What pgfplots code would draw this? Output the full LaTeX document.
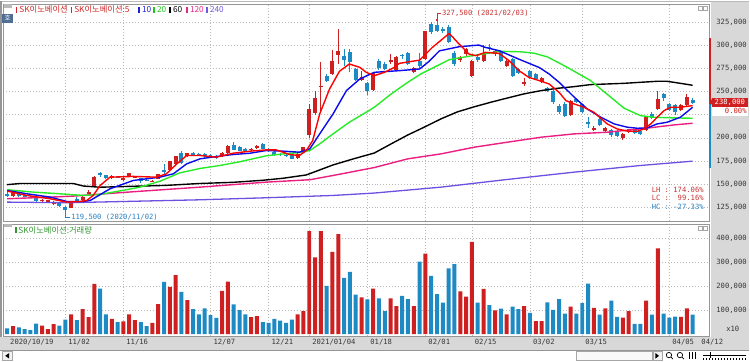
\documentclass[border=0pt]{standalone}
\usepackage{pgfplots}
\pgfplotsset{compat=1.18}
\usepackage{pgfplotstable}
\usepackage{fontspec}
\setmainfont{Liberation Sans}
\newfontfamily\kr{Noto Sans CJK KR}
\newfontfamily\nm{DejaVu Sans Mono}
\definecolor{cred}{RGB}{206,32,32}
\definecolor{cblue}{RGB}{30,138,196}
\definecolor{ma5}{RGB}{255,0,0}
\definecolor{ma10}{RGB}{10,10,235}
\definecolor{ma20}{RGB}{40,235,40}
\definecolor{ma60}{RGB}{0,0,0}
\definecolor{ma120}{RGB}{235,30,130}
\definecolor{ma240}{RGB}{110,80,225}
\definecolor{panelgray}{RGB}{216,216,216}
\definecolor{gridc}{RGB}{185,185,185}
\definecolor{framec}{RGB}{150,150,150}
\definecolor{txtgray}{RGB}{55,55,55}
\definecolor{legred}{RGB}{208,40,40}
\definecolor{legblue}{RGB}{30,30,220}
\definecolor{leggreen}{RGB}{30,200,30}
\definecolor{legpink}{RGB}{225,40,130}
\definecolor{legpurple}{RGB}{110,90,225}
\definecolor{volgreen}{RGB}{50,150,50}
\definecolor{annred}{RGB}{200,50,50}
\definecolor{annblue}{RGB}{40,130,195}
\definecolor{iconblue}{RGB}{80,110,150}

\pgfplotstableread{
x o h l c
1 136.5 141 135.5 140
6 132 134 131 133
7 131.5 133 130.5 132.5
8 129 131.5 127.5 130
11 124.5 130.5 123.5 130
13 133 136.5 132 135.5
14 139.5 143 138 141
15 148 159 147 158
18 156 159.5 155 159
20 155 158 153 156.5
21 158.5 162 157.5 161.5
22 157 158.5 156 158
25 153 154.5 152 153.5
26 155.5 161 155 160.5
28 165 175 164 174.5
29 172 180.5 171 180
31 180 184 179 183
37 180 185 179.5 184
38 183 192 182.5 191.5
42 187 189 186 188
43 189 192 188 191
50 178 183 177.5 182.5
51 183.5 190.5 183 190
52 202.5 236.5 200 231
53 227 251 225 243
54 255 282 228 256.5
56 269 295 268 283
57 290 317.5 280 293.5
61 263 272 261 266
63 252 271 251 270
66 282 291 280 284
67 273 288 272 287
70 271 277 270 275.5
72 285 316 284 315
78 284 289 282 287
79 290.5 297 289 296
80 267 284 266 283
82 283 300 282 292
84 290.5 295 289 294
86 278 285 277 283
89 259 265 256 260.5
92 260 266 259 265
97 225 241 224 240
101 209 212.5 207 211
103 207 211.5 206 210.5
106 199.5 205.5 197.5 204.5
107 206 209.5 205 209
110 208 223 207 222
112 231 251 230 242
116 230.5 236 229 235
117 235 247 234 244
}\redc

\pgfplotstableread{
x o h l c
0 139.5 141 136 136.5
2 139 140 136 137
3 138 139 135.5 136.5
4 136 137.5 134.5 135
5 135 136 131 131.5
9 129 129.5 125.5 126
10 125.5 126.5 119.5 122
12 134 135.5 131 132
16 161.5 163.5 157.5 160
17 159.5 160 155 156
19 158 159 156 157
23 156 157 151 153
24 154.5 156 153 154
27 165.5 172 161 163
30 184 185.5 172 172.5
32 183.5 185 180 182
33 182.5 183.5 180 181
34 182 183 178 180
35 181 182 178.5 179
36 180 181 177.5 178.5
39 192 195 186.5 187
40 190.5 191.5 185.5 186
41 187.5 188.5 185.5 186.5
44 193 194 187.5 188
45 188 189 185 186
46 185 186 180.5 181
47 182.5 183.5 180.5 181.5
48 181.5 182.5 179.5 180.5
49 182 183 177 177.5
55 266.5 269 260 261.5
58 288 296 278 284
59 293 296 271 282
60 274 276 261 262
62 259 260 246 251
64 283 285 273 275.5
65 280 282 273 274.5
68 290 291 285 288.5
69 292 293 279 280
71 283 292 276 278
73 323.5 325 312 314
74 322 327.5 314 316
75 318 320 313 316
76 320 321.5 303 304
77 292 294 278 280
81 287 289 282 284
83 298.5 301 294 297
85 294 295 282 283.5
87 285 286 266 267
88 274 276 269 270
90 272.5 273 264 265.5
91 269 270 263 264
93 254 255 250 251
94 251 252 237 238.5
95 234 236 226 228
96 237 239 222 224
98 242 243 238 239
99 236 237 227 228
100 217 222 211 215.5
102 220 221 213 214
104 208 209 201 203.5
105 207 208 200.5 201.5
108 208 209 204 205
109 207 208 203.5 204.5
111 226 228 220 221
113 247 248.5 240 243
114 237 238 229 230
115 235 236 225 228
118 240.5 243 237 238
}\bluec

\pgfplotstableread{
x v
1 33
6 36
7 21
8 42
11 82
13 104
14 71
15 210
18 64
20 53
21 82
22 58
25 47
26 125
28 197
29 246
31 142
37 181
38 219
42 71
43 75
50 82
51 96
52 430
53 320
54 430
56 343
57 417
61 153
63 190
66 149
67 117
70 117
72 336
78 178
79 157
80 385
82 189
84 99
86 82
89 117
91 54
92 54
97 115
101 110
103 108
106 69
107 96
110 140
112 358
116 72
117 108
}\volred

\pgfplotstableread{
x v
0 24
2 28
3 21
4 17
5 44
9 36
10 61
12 58
16 190
17 82
19 50
23 50
24 33
27 218
30 176
32 104
33 82
34 107
35 79
36 68
39 124
40 100
41 82
44 50
45 47
46 64
47 56
48 47
49 61
55 201
58 235
59 260
60 165
62 145
64 149
65 96
68 160
69 146
71 303
73 243
74 167
75 132
76 274
77 292
81 132
83 121
85 106
87 115
88 104
90 89
93 133
94 101
95 146
96 86
98 86
99 129
100 211
102 81
104 140
105 72
108 43
109 43
111 81
113 86
114 69
115 73
118 81
}\volblue

\begin{document}
\begin{tikzpicture}[x=1pt,y=1pt]
\fill[white] (0,0) rectangle (750,361);
\fill[panelgray] (712.5,11) rectangle (750,361);
\fill[panelgray] (0,11) rectangle (750,24.5);
\draw[framec] (0,11) -- (750,11);
\fill[white] (0,0) rectangle (750,10.5);
\draw[gridc] (0,360.5) -- (750,360.5);
\draw[framec,line width=1.5pt] (0.75,24.5) -- (0.75,361);

% ---------- price panel ----------
\begin{axis}[
  at={(3pt,140pt)}, anchor=south west,
  width=707pt, height=218pt, scale only axis,
  xmin=-0.69, xmax=120.8, ymin=109.6, ymax=345,
  axis line style={draw=framec},
  xtick={10,20,35,45,52,62,72,80,90,99,114}, xticklabels={},
  ytick={125,150,175,200,225,250,275,300,325},
  yticklabels={{125,000},{150,000},{175,000},{200,000},{},{250,000},{275,000},{300,000},{325,000}},
  yticklabel pos=right,
  yticklabel style={font=\nm\fontsize{7.2}{8}\selectfont, text=txtgray, anchor=west, xshift=4pt},
  major tick length=0pt,
  grid=major, grid style={gridc, dash pattern=on 1pt off 2pt},
]
% wicks
\addplot[mark=none, draw=none, forget plot, error bars/.cd, y dir=both, y explicit, error mark=none,
  error bar style={draw=cred, line width=1pt}]
  table[x=x, y expr={(\thisrow{h}+\thisrow{l})/2}, y error expr={(\thisrow{h}-\thisrow{l})/2}] {\redc};
\addplot[mark=none, draw=none, forget plot, error bars/.cd, y dir=both, y explicit, error mark=none,
  error bar style={draw=cblue, line width=1pt}]
  table[x=x, y expr={(\thisrow{h}+\thisrow{l})/2}, y error expr={(\thisrow{h}-\thisrow{l})/2}] {\bluec};
% bodies
\addplot[mark=none, draw=none, forget plot, error bars/.cd, y dir=both, y explicit, error mark=none,
  error bar style={draw=cred, line width=4pt}]
  table[x=x, y expr={(\thisrow{o}+\thisrow{c})/2}, y error expr={max(abs(\thisrow{c}-\thisrow{o})/2,0.4)}] {\redc};
\addplot[mark=none, draw=none, forget plot, error bars/.cd, y dir=both, y explicit, error mark=none,
  error bar style={draw=cblue, line width=4pt}]
  table[x=x, y expr={(\thisrow{o}+\thisrow{c})/2}, y error expr={max(abs(\thisrow{c}-\thisrow{o})/2,0.4)}] {\bluec};

% moving averages
\addplot[ma240, line width=1.3pt, line join=round] coordinates {
(0,130.4) (10.25,129.7) (21.7,131.3) (33.2,132.9) (44.6,135.1) (56.1,137.6) (63.2,140.2) (74.7,146.6) (86.1,154.9) (97.6,162.8) (109.0,170.0) (118,174.7)};
\addplot[ma120, line width=1.4pt, line join=round] coordinates {
(0,134.0) (7.4,135.8) (11.4,136.9) (20.3,141.0) (33.2,146.6) (44.6,152.0) (52.1,154.6) (56.1,159.2) (63.2,167.8) (68.96,177.2) (74.7,182.6) (80.4,189.8) (86.1,195.2) (91.9,200.6) (97.6,204.2) (103.3,206.0) (109.0,209.6) (114.8,213.9) (118,215.7)};
\addplot[ma60, line width=1.4pt, line join=round] coordinates {
(0,149.3) (2.2,150.5) (11.4,150.5) (13.1,147.8) (16,146.5) (21.5,147.5) (27.4,148.5) (33,150.5) (38.9,151.8) (44,154) (47.5,156.2) (51.5,159.8) (53.8,165.2) (56.1,170.6) (59.5,177.0) (63.2,183.5) (66.1,193.4) (68.96,203) (71.8,211.5) (74.7,220.5) (77.5,228) (80.4,233.5) (83.3,238.5) (86.1,243) (88.99,247.5) (91.9,251) (94.7,253.5) (97.6,255.3) (100.4,257.5) (103.3,258.2) (106.2,258.9) (109.0,260) (111.9,261.1) (113.6,261.1) (115.9,258.9) (118,256.8)};
\addplot[ma20, line width=1.4pt, line join=round] coordinates {
(0,143.8) (4.5,141.2) (9.1,139.4) (13.1,137.6) (16,138.7) (19.4,142.5) (22.8,146.5) (26.3,153) (29.7,162) (33.2,166.8) (36.6,170) (40,174) (44.6,180.5) (47.5,182.5) (50.3,184) (52.1,186.2) (53.8,193.4) (56.1,204.2) (58.9,216.8) (61.8,227.6) (63.2,233.0) (66.1,247.4) (68.96,260.0) (71.2,269.0) (73.5,276.2) (76.1,284.5) (79.3,288.0) (82.1,290.8) (85.0,293.5) (88.4,293) (90.7,291.5) (93.0,287.5) (95.3,280) (97.6,272) (100.4,262) (103.3,247) (106.2,232) (109.0,224.0) (111.3,222.2) (114.8,221.5) (118,221.1)};
\addplot[ma10, line width=1.4pt, line join=round] coordinates {
(0,143.0) (3.4,139.4) (7.4,135.8) (10.25,131.1) (13.1,131.1) (14.3,132.2) (17.7,144.8) (21.7,153.8) (26.3,157.4) (28.6,161.0) (30.9,171.8) (33.2,177.2) (36.0,179.7) (38.9,181.9) (41.8,183.3) (44.6,186.2) (47.5,185.5) (50.3,184.4) (52.1,188.0) (53.8,204.2) (56.1,225.8) (58.4,251.0) (60.7,263.6) (63.2,270.8) (67.5,272.6) (71,274.4) (72.5,282) (74.4,294) (77.8,298.5) (81.2,300.3) (82.3,297.8) (84.7,294.2) (88.1,285) (91.6,276) (93.3,269) (95.2,259) (97.6,244) (99.9,231) (102.2,222.2) (104.5,215.0) (106.8,211.4) (108.5,210.3) (110.2,210.7) (111.9,215.0) (113.6,216.8) (115.9,222.2) (118,233.0)};
\addplot[ma5, line width=1.4pt, line join=round] coordinates {
(0,142.3) (3.4,137.6) (7.4,134.0) (10.25,130.4) (12.5,131) (13.7,132.2) (14.8,137.6) (16,148.4) (17.7,157.4) (21.7,158.2) (25.7,157.4) (27.4,161.0) (29.2,171.8) (30.9,180.8) (33.2,180.8) (36.0,179.0) (38.9,183.3) (41.8,185.5) (44.6,186.9) (46.3,186.9) (48.6,181.9) (50.3,180.8) (51.5,186.2) (52.6,197.0) (53.8,225.8) (55.5,252.8) (57.2,271.9) (58.9,279.8) (60.7,276.2) (61.8,270.8) (63.2,267.2) (64.95,270.8) (66.7,276.2) (67.5,280.5) (71,284) (73.2,297.8) (76.1,312.9) (77.8,301.4) (79.5,290.6) (80.7,288.8) (82.3,292.4) (84.7,291.3) (86.4,283.4) (88.1,272.6) (89.8,265.4) (91.6,261.8) (93.3,258.2) (95.0,249.2) (96.2,240.2) (97.6,236.6) (99.3,233.0) (101.0,227.6) (103.3,215.0) (105.0,209.6) (106.8,207.1) (108.5,207.1) (109.6,209.6) (110.8,215.0) (111.9,222.2) (113.1,229.4) (114.2,233.0) (115.9,233.0) (118,234.8)};
\end{axis}

% ---------- volume panel ----------
\begin{axis}[
  at={(3pt,25pt)}, anchor=south west,
  width=707pt, height=112pt, scale only axis,
  xmin=-0.69, xmax=120.8, ymin=-8.33, ymax=458.3,
  axis line style={draw=framec},
  ybar, bar width=4pt, bar shift=0pt,
  xtick={10,20,35,45,52,62,72,80,90,99,114},
  xticklabels={11/02,11/16,12/07,12/21,2021/01/04,01/18,02/01,02/15,03/02,03/15,04/05},
  extra x ticks={0,119}, extra x tick labels={2020/10/19,04/12},
  extra x tick style={grid=none},
  xticklabel style={font=\nm\fontsize{7.2}{8}\selectfont, text=txtgray, anchor=north west, xshift=-0.5pt, yshift=0pt},
  ytick={100,200,300,400},
  yticklabels={{100,000},{200,000},{300,000},{400,000}},
  yticklabel pos=right,
  yticklabel style={font=\nm\fontsize{7.2}{8}\selectfont, text=txtgray, anchor=west, xshift=4pt},
  major tick length=0pt,
  grid=major, grid style={gridc, dash pattern=on 1pt off 2pt},
]
\addplot[fill=cred, draw=none] table[x=x,y=v] {\volred};
\addplot[fill=cblue, draw=none] table[x=x,y=v] {\volblue};
\end{axis}

% ---------- decorations ----------
\fill[gray!55] (4,354) rectangle (12,357.5);
\fill[iconblue] (2,339) rectangle (13,348);
\node[text=white, font=\kr\fontsize{6.5}{7}\selectfont, inner sep=0] at (7.5,343.5) {호};
% legend
\fill[legred] (15.5,349) rectangle (17.3,355);
\node[anchor=west, inner sep=0, text=legred, font=\kr\fontsize{8.3}{9}\selectfont] at (19,352) {SK이노베이션};
\fill[legred] (70.5,349) rectangle (72.3,355);
\node[anchor=west, inner sep=0, text=legred, font=\kr\fontsize{8.3}{9}\selectfont] at (74,352) {SK이노베이션:5};
\fill[legblue] (138.5,349) rectangle (140.3,355);
\node[anchor=west, inner sep=0, text=legblue, font=\kr\fontsize{8.3}{9}\selectfont] at (142,352) {10};
\fill[leggreen] (153.5,349) rectangle (155.3,355);
\node[anchor=west, inner sep=0, text=leggreen, font=\kr\fontsize{8.3}{9}\selectfont] at (157,352) {20};
\fill[black] (169.5,349) rectangle (171.3,355);
\node[anchor=west, inner sep=0, text=black, font=\kr\fontsize{8.3}{9}\selectfont] at (173,352) {60};
\fill[legpink] (186.5,349) rectangle (188.3,355);
\node[anchor=west, inner sep=0, text=legpink, font=\kr\fontsize{8.3}{9}\selectfont] at (190,352) {120};
\fill[legpurple] (206.5,349) rectangle (208.3,355);
\node[anchor=west, inner sep=0, text=legpurple, font=\kr\fontsize{8.3}{9}\selectfont] at (210,352) {240};
% top-right small icons
\draw[gray!70, fill=white] (699,352) rectangle (703,356);
\draw[gray!70, fill=white] (704,352) rectangle (708,356);
\draw[gray!70, fill=white] (699,131) rectangle (703,135);
\draw[gray!70, fill=white] (704,131) rectangle (708,135);
% volume legend
\fill[gray!55] (4,134) rectangle (12,137);
\fill[volgreen] (15,128) rectangle (16.8,134);
\node[anchor=west, inner sep=0, text=volgreen, font=\kr\fontsize{8.3}{9}\selectfont] at (18,131) {SK이노베이션:거래량};
% high / low annotations
\draw[annred, line width=0.7pt] (437.7,341.8) -- (437.7,348) -- (441.5,348);
\fill[annred] (436.7,341) rectangle (438.7,343);
\node[anchor=west, inner sep=0, text=annred, font=\nm\fontsize{7.2}{8}\selectfont] at (442.5,348) {327,500 (2021/02/03)};
\draw[annblue, line width=0.7pt] (65.2,149.2) -- (65.2,144) -- (70,144);
\node[anchor=west, inner sep=0, text=annblue, font=\nm\fontsize{7.2}{8}\selectfont] at (71,144) {119,500 (2020/11/02)};
% LH LC HC
\node[anchor=east, inner sep=0, text=annred, font=\nm\fontsize{7.2}{8}\selectfont] at (705,172) {LH :\ 174.06\%};
\node[anchor=east, inner sep=0, text=annred, font=\nm\fontsize{7.2}{8}\selectfont] at (705,163) {LC :\ \ 99.16\%};
\node[anchor=east, inner sep=0, text=annblue, font=\nm\fontsize{7.2}{8}\selectfont] at (705,154) {HC :\ -27.33\%};
% range bar and current price
\fill[cred] (710.4,258) rectangle (712.4,324);
\fill[cblue] (710.4,193) rectangle (712.4,258);
\fill[white] (713,246) rectangle (749,255);
\fill[cred] (713,255) rectangle (749,264);
\fill[cred] (710.5,259.5) -- (713.2,262.5) -- (713.2,256.5) -- cycle;
\node[text=white, inner sep=0, font=\nm\fontsize{7.2}{8}\selectfont] at (731,259.5) {238,000};
\node[anchor=east, text=cred, inner sep=0, font=\nm\fontsize{7.2}{8}\selectfont] at (748,250.5) {0.00\%};
% volume unit
\node[text=txtgray, inner sep=0, font=\nm\fontsize{7.2}{8}\selectfont] at (734,32) {x10};
% bottom scroll bar
\draw[gray!70, fill=gray!10] (2,1) rectangle (12,9.5);
\fill[black] (5,5.25) -- (9,8) -- (9,2.5) -- cycle;
\draw[gray!70, fill=gray!5] (577,1) rectangle (653,9.5);
\draw[gray!70, fill=gray!10] (654,1) rectangle (663,9.5);
\fill[black] (660,5.25) -- (656.5,8) -- (656.5,2.5) -- cycle;
\draw[black, line width=0.7pt] (670,6) circle (2.7);
\draw[black, line width=0.7pt] (672,4) -- (674,2);
\draw[black, line width=0.7pt] (681,6) circle (2.7);
\draw[black, line width=0.7pt] (683,4) -- (685,2);
\draw[black, line width=0.6pt] (690,2) -- (690,9) (693,2) -- (693,9) (696,2) -- (696,9);
\draw[black, line width=0.5pt] (704,6) -- (747,6);
\draw[black, line width=0.8pt] (712,3) -- (712,9);
\foreach \t in {704,707,...,746} {\draw[black, line width=0.3pt] (\t,1.5) -- (\t,3);}
\end{tikzpicture}
\end{document}
